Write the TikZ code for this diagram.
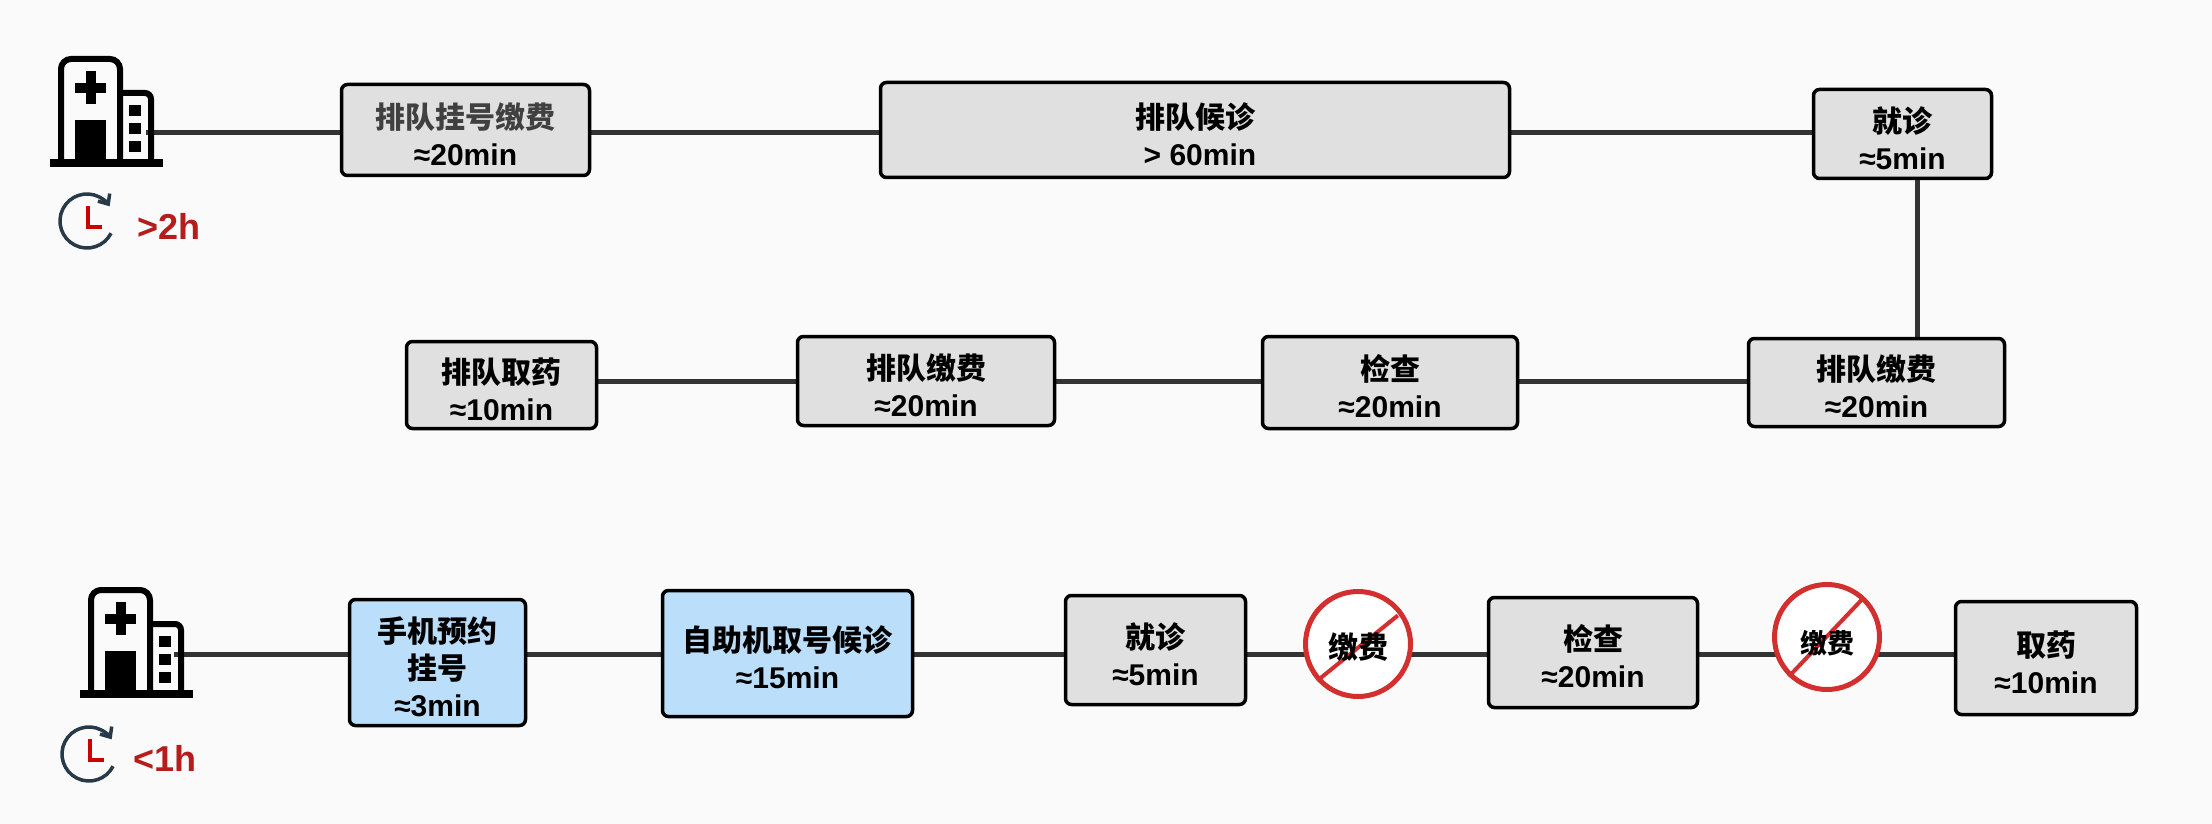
\documentclass[tikz,border=0pt]{standalone}
\usepackage{fontspec}
\usetikzlibrary{arrows.meta,backgrounds}
\setmainfont{Liberation Sans}
\newfontfamily\cjk{Noto Sans CJK SC}
\newcommand{\cn}[1]{{\cjk #1}}
\newcommand{\cntop}[1]{\rule{0pt}{34pt}{\cjk #1}}
\definecolor{pagebg}{HTML}{FAFAFA}
\definecolor{boxgrey}{HTML}{E0E0E0}
\definecolor{boxblue}{HTML}{BBDEFB}
\definecolor{linkgrey}{HTML}{333333}
\definecolor{alertred}{HTML}{B71C1C}
\definecolor{noentryred}{HTML}{D32F2F}
\definecolor{clockblue}{HTML}{263A4A}
\tikzset{
  taskbox/.style={draw=black,fill=boxgrey,line width=3.5pt,rounded corners=6pt,inner sep=0pt,
    align=center,font=\bfseries\fontsize{30}{37}\selectfont},
  planbox/.style={taskbox,fill=boxblue},
  link/.style={draw=linkgrey,line width=5pt},
  noentry/.style={circle,draw=noentryred,fill=white,line width=5pt,minimum size=105pt,inner sep=0pt},
  slash/.style={draw=noentryred,line width=4pt},
  feetext/.style={inner sep=0pt,font=\bfseries\fontsize{30}{30}\selectfont},
  totaltime/.style={inner sep=0pt,text=alertred,font=\bfseries\fontsize{36}{36}\selectfont},
  hospital/.pic={
    \fill[black] (0,103) rectangle (113,111);
    \draw[black,line width=6pt,rounded corners=10pt] (11,104) -- (11,3) -- (70,3) -- (70,104);
    \draw[black,line width=6pt,rounded corners=6pt] (70,37) -- (101,37) -- (101,104);
    \fill[black] (25,27) rectangle (56,37);
    \fill[black] (35.5,15) rectangle (45.5,48);
    \fill[black] (25,64) rectangle (56,103);
    \fill[black] (79,49) rectangle (91,60);
    \fill[black] (79,67) rectangle (91,78);
    \fill[black] (79,85) rectangle (91,96);
  },
  clockicon/.pic={
    \draw[clockblue,line width=3.5pt,-{Straight Barb[length=8pt,width=14pt]}]
      (27:27) arc[start angle=27,end angle=327,radius=27];
    \draw[red!80!black,line width=4.5pt] (1,-15) -- (1,6) -- (15,6);
  },
}
\begin{document}
\begin{tikzpicture}[x=1pt,y=-1pt]
  \useasboundingbox (0,0) rectangle (2212,824);
  % first row
  \node[taskbox,minimum width=248pt,minimum height=91pt] (queuereg) at (465.5,130)
    {\cntop{\textcolor{black!75}{排队挂号缴费}}\\≈20min};
  \node[taskbox,minimum width=629pt,minimum height=95pt] (queuewait) at (1195,130)
    {\cntop{排队候诊}\\\hspace*{10pt}> 60min};
  \node[taskbox,minimum width=178pt,minimum height=89pt] (visit) at (1902.5,134)
    {\cntop{就诊}\\≈5min};
  % second row
  \node[taskbox,minimum width=256pt,minimum height=88pt] (payone) at (1876.5,382.5)
    {\cntop{排队缴费}\\≈20min};
  \node[taskbox,minimum width=255pt,minimum height=92pt] (check) at (1390,382.5)
    {\cntop{检查}\\≈20min};
  \node[taskbox,minimum width=257pt,minimum height=89pt] (paytwo) at (926,381)
    {\cntop{排队缴费}\\≈20min};
  \node[taskbox,minimum width=190pt,minimum height=87pt] (drugs) at (501.5,385)
    {\cntop{排队取药}\\≈10min};
  % third row
  \node[planbox,minimum width=176pt,minimum height=126pt] (phone) at (437.5,662.5)
    {\cntop{手机预约}\\\cn{挂号}\\≈3min};
  \node[planbox,minimum width=250pt,minimum height=126pt] (kiosk) at (787.5,653.5)
    {\cntop{自助机取号候诊}\\≈15min};
  \node[taskbox,minimum width=180pt,minimum height=109pt] (visitfast) at (1155.5,650)
    {\cntop{就诊}\\≈5min};
  \node[noentry] (nofeeone) at (1358,644) {};
  \node[taskbox,minimum width=209pt,minimum height=110pt] (checkfast) at (1593,652.5)
    {\cntop{检查}\\≈20min};
  \node[noentry] (nofeetwo) at (1827,637) {};
  \node[taskbox,minimum width=181pt,minimum height=113pt] (drugsfast) at (2046,658)
    {\cntop{取药}\\≈10min};
  \draw[slash,shorten >=6pt] (nofeeone.222) -- (nofeeone.36);
  \draw[slash,shorten >=4pt] (nofeetwo.226) -- (nofeetwo.47);
  \node[feetext] (feeone) at ([yshift=-3pt]nofeeone) {\cn{缴费}};
  \node[feetext,font=\bfseries\fontsize{27}{27}\selectfont] (feetwo) at ([yshift=-6pt]nofeetwo) {\cn{缴费}};
  % icons
  \pic at (50,56) {hospital};
  \pic at (80,587) {hospital};
  \pic at (87,221) {clockicon};
  \pic at (89,754) {clockicon};
  \node[totaltime,anchor=west] (slowtime) at (137,226) {>2h};
  \node[totaltime,anchor=west] (fasttime) at (133,758) {<1h};
  \coordinate (hospone) at (146,132.5);
  \coordinate (hosptwo) at (174,654.5);
  \coordinate (turn) at (1917,0);
  % lines go under the boxes
  \begin{scope}[on background layer]
    \fill[pagebg] (0,0) rectangle (2212,824);
    \foreach \a/\b in {queuereg/queuewait,queuewait/visit}
      \draw[link] (\a |- hospone) -- (\b |- hospone);
    \draw[link] (hospone) -- (queuereg |- hospone);
    \draw[link] (turn |- visit) -- (turn |- payone);
    \foreach \a/\b in {payone/check,check/paytwo,paytwo/drugs}
      \draw[link] (\a |- 0,381) -- (\b |- 0,381);
    \draw[link] (hosptwo) -- (phone |- hosptwo);
    \foreach \a/\b in {phone/kiosk,kiosk/visitfast,visitfast/nofeeone,nofeeone/checkfast,checkfast/nofeetwo,nofeetwo/drugsfast}
      \draw[link] (\a |- hosptwo) -- (\b |- hosptwo);
  \end{scope}
\end{tikzpicture}
\end{document}
